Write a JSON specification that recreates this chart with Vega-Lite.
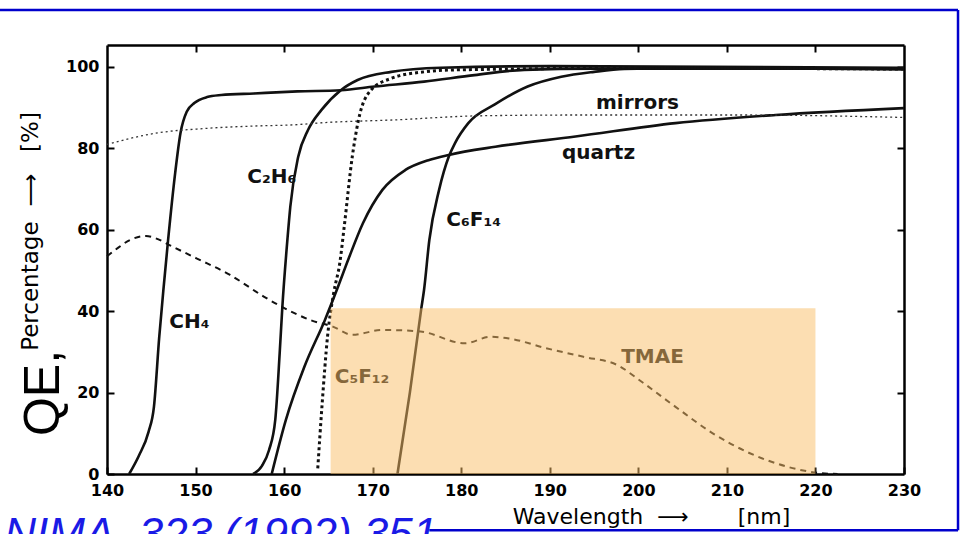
{
  "$schema": "https://vega.github.io/schema/vega-lite/v6.json",
  "width": 797,
  "height": 429,
  "autosize": {"type": "none"},
  "padding": {"left": 107, "top": 45, "right": 56, "bottom": 60},
  "background": "white",
  "config": {"view": {"stroke": null}, "font": "DejaVu Sans"},
  "datasets": {
    "solid": [
      {"s": "CH4", "x": 142.5, "y": 0}, {"s": "CH4", "x": 143.6, "y": 4.5}, {"s": "CH4", "x": 144.7, "y": 10.4}, {"s": "CH4", "x": 145.3, "y": 16.5}, {"s": "CH4", "x": 145.9, "y": 33.7}, {"s": "CH4", "x": 146.4, "y": 46}, {"s": "CH4", "x": 146.9, "y": 57.5}, {"s": "CH4", "x": 147.7, "y": 74}, {"s": "CH4", "x": 148.3, "y": 83.8}, {"s": "CH4", "x": 149.0, "y": 89}, {"s": "CH4", "x": 149.9, "y": 91.2}, {"s": "CH4", "x": 151.3, "y": 92.6}, {"s": "CH4", "x": 152.9, "y": 93.1}, {"s": "CH4", "x": 156.6, "y": 93.5}, {"s": "CH4", "x": 161.5, "y": 94}, {"s": "CH4", "x": 166.4, "y": 94.3}, {"s": "CH4", "x": 170.2, "y": 95.2}, {"s": "CH4", "x": 175.8, "y": 96.4}, {"s": "CH4", "x": 181.5, "y": 98}, {"s": "CH4", "x": 187.1, "y": 99.3}, {"s": "CH4", "x": 195, "y": 99.6}, {"s": "CH4", "x": 230, "y": 99.6},
      {"s": "C2H6", "x": 156.5, "y": 0}, {"s": "C2H6", "x": 157.5, "y": 2}, {"s": "C2H6", "x": 158.3, "y": 5.9}, {"s": "C2H6", "x": 159.0, "y": 13.3}, {"s": "C2H6", "x": 159.5, "y": 29.7}, {"s": "C2H6", "x": 159.8, "y": 41}, {"s": "C2H6", "x": 160.4, "y": 58.3}, {"s": "C2H6", "x": 160.7, "y": 65.7}, {"s": "C2H6", "x": 161.6, "y": 78}, {"s": "C2H6", "x": 162.7, "y": 84.5}, {"s": "C2H6", "x": 164.2, "y": 89.4}, {"s": "C2H6", "x": 166.4, "y": 94.3}, {"s": "C2H6", "x": 168.3, "y": 96.8}, {"s": "C2H6", "x": 172.1, "y": 98.8}, {"s": "C2H6", "x": 177.7, "y": 99.8}, {"s": "C2H6", "x": 190, "y": 100.2}, {"s": "C2H6", "x": 230, "y": 99.8},
      {"s": "quartz", "x": 158.6, "y": 0}, {"s": "quartz", "x": 160.2, "y": 13.3}, {"s": "quartz", "x": 162.3, "y": 26.4}, {"s": "quartz", "x": 164.6, "y": 37.8}, {"s": "quartz", "x": 166.0, "y": 45.5}, {"s": "quartz", "x": 167.3, "y": 53}, {"s": "quartz", "x": 168.9, "y": 61.6}, {"s": "quartz", "x": 171.1, "y": 69.8}, {"s": "quartz", "x": 173.7, "y": 74.7}, {"s": "quartz", "x": 176.3, "y": 77.1}, {"s": "quartz", "x": 178.6, "y": 78.4}, {"s": "quartz", "x": 183.85, "y": 80.4}, {"s": "quartz", "x": 192.9, "y": 82.9}, {"s": "quartz", "x": 204.2, "y": 86.2}, {"s": "quartz", "x": 215.5, "y": 88.2}, {"s": "quartz", "x": 230, "y": 89.9},
      {"s": "C6F14", "x": 172.8, "y": 0}, {"s": "C6F14", "x": 174.2, "y": 20}, {"s": "C6F14", "x": 175.5, "y": 40.8}, {"s": "C6F14", "x": 175.8, "y": 45.2}, {"s": "C6F14", "x": 176.4, "y": 57.5}, {"s": "C6F14", "x": 177.5, "y": 69.8}, {"s": "C6F14", "x": 178.6, "y": 78}, {"s": "C6F14", "x": 179.3, "y": 81.3}, {"s": "C6F14", "x": 180.8, "y": 86.2}, {"s": "C6F14", "x": 183.8, "y": 90.8}, {"s": "C6F14", "x": 187.5, "y": 95.2}, {"s": "C6F14", "x": 191.3, "y": 97.6}, {"s": "C6F14", "x": 195.0, "y": 98.8}, {"s": "C6F14", "x": 198.4, "y": 99.5}, {"s": "C6F14", "x": 210, "y": 99.8}, {"s": "C6F14", "x": 230, "y": 99.4}
    ],
    "c5f12": [
      {"x": 163.8, "y": 1.4}, {"x": 164.3, "y": 17.4}, {"x": 164.9, "y": 33.7}, {"x": 165.6, "y": 44.5}, {"x": 166.3, "y": 52}, {"x": 166.8, "y": 61}, {"x": 167.7, "y": 78}, {"x": 168.4, "y": 87}, {"x": 169.8, "y": 94.3}, {"x": 172.1, "y": 97.2}, {"x": 175.8, "y": 98.8}, {"x": 179.6, "y": 99.3}, {"x": 200, "y": 99.7}, {"x": 230, "y": 99.5}
    ],
    "mirrors": [
      {"x": 140, "y": 81}, {"x": 145.4, "y": 83.7}, {"x": 151.1, "y": 84.9}, {"x": 156.7, "y": 85.5}, {"x": 161.2, "y": 85.8}, {"x": 164.3, "y": 86.3}, {"x": 172.5, "y": 87}, {"x": 182, "y": 88}, {"x": 192.9, "y": 88.2}, {"x": 211.7, "y": 88.2}, {"x": 230, "y": 87.6}
    ],
    "tmae": [
      {"x": 140, "y": 53.5}, {"x": 140.9, "y": 55}, {"x": 142.6, "y": 57.5}, {"x": 144.4, "y": 58.5}, {"x": 145.5, "y": 57.9}, {"x": 147.45, "y": 55.8}, {"x": 150.1, "y": 53}, {"x": 153.9, "y": 48.9}, {"x": 157.7, "y": 43.6}, {"x": 159.8, "y": 41}, {"x": 163.0, "y": 37.8}, {"x": 165.5, "y": 36.2}, {"x": 167.7, "y": 34.2}, {"x": 171.1, "y": 35.4}, {"x": 175.4, "y": 35}, {"x": 180.4, "y": 32.1}, {"x": 183.3, "y": 33.7}, {"x": 185.4, "y": 33.3}, {"x": 189.6, "y": 30.9}, {"x": 193.8, "y": 28.8}, {"x": 197.6, "y": 26.8}, {"x": 200.1, "y": 23.1}, {"x": 204.2, "y": 16.5}, {"x": 208.4, "y": 10}, {"x": 212.6, "y": 5.1}, {"x": 216.8, "y": 1.8}, {"x": 220.2, "y": 0.3}, {"x": 222.5, "y": 0}
    ],
    "labels": [
      {"t": "mirrors", "x": 199.9, "y": 91.2},
      {"t": "quartz", "x": 195.5, "y": 78.9},
      {"t": "C₂H₆", "x": 158.6, "y": 73},
      {"t": "C₆F₁₄", "x": 181.4, "y": 62.4},
      {"t": "CH₄", "x": 149.3, "y": 37.4},
      {"t": "C₅F₁₂", "x": 168.8, "y": 23.9},
      {"t": "TMAE", "x": 201.6, "y": 28.8}
    ],
    "box": [{"x": 165.25, "x2": 220, "y": 0, "y2": 40.7}],
    "qe": [{"t": "QE,", "x": 132.9, "y": 19.9}],
    "cite": [{"t": "NIMA, 323 (1992) 351", "x": 128.4, "y": -18.5}],
    "frame": [
      {"x": 127.85, "x2": 236.1, "y": 114, "y2": 114},
      {"x": 236.1, "x2": 236.1, "y": 114, "y2": -13.8},
      {"x": 176.4, "x2": 236.1, "y": -13.8, "y2": -13.8}
    ]
  },
  "layer": [
    {
      "data": {"name": "solid"},
      "mark": {"type": "line", "color": "#111", "strokeWidth": 2.6, "interpolate": "monotone"},
      "encoding": {
        "x": {"field": "x", "type": "quantitative", "scale": {"domain": [140, 230], "nice": false, "zero": false},
          "axis": {"orient": "bottom", "values": [140, 150, 160, 170, 180, 190, 200, 210, 220, 230], "grid": false, "tickSize": -7, "tickWidth": 2, "tickColor": "#000", "domainColor": "#000", "domainWidth": 2.5, "labelFontWeight": "bold", "labelFontSize": 16, "labelColor": "#000", "labelPadding": 15, "labelFlush": false,
            "title": "Wavelength \u00a0⟶\u00a0\u00a0\u00a0\u00a0\u00a0\u00a0\u00a0[nm]", "titleFontSize": 22, "titleFontWeight": "normal", "titleColor": "#000", "titleX": 544, "titleY": 32, "titleBaseline": "top"}},
        "y": {"field": "y", "type": "quantitative", "scale": {"domain": [0, 105.4], "nice": false},
          "axis": {"orient": "left", "values": [0, 20, 40, 60, 80, 100], "grid": false, "tickSize": -7, "tickWidth": 2, "tickColor": "#000", "domainColor": "#000", "domainWidth": 2.5, "labelFontWeight": "bold", "labelFontSize": 16, "labelColor": "#000", "labelPadding": 15, "labelFlush": false,
            "title": "Percentage \u00a0⟶\u00a0\u00a0 [%]", "titleFontSize": 23, "titleFontWeight": "normal", "titleColor": "#000", "titleX": -65, "titleY": 186, "titleAngle": 270, "titleBaseline": "bottom", "titleAlign": "center"}},
        "detail": {"field": "s"}
      }
    },
    {
      "data": {"name": "mirrors"},
      "mark": {"type": "line", "color": "#333", "strokeWidth": 1.3, "strokeDash": [2, 3], "interpolate": "monotone"},
      "encoding": {
        "x": {"field": "x", "type": "quantitative", "axis": {"orient": "top", "values": [150, 160, 170, 180, 190, 200, 210, 220], "labels": false, "grid": false, "tickSize": -7, "tickWidth": 2, "tickColor": "#000", "domainColor": "#000", "domainWidth": 2.5, "title": null}},
        "y": {"field": "y", "type": "quantitative", "axis": {"orient": "right", "values": [20, 40, 60, 80, 100], "labels": false, "grid": false, "tickSize": -7, "tickWidth": 2, "tickColor": "#000", "domainColor": "#000", "domainWidth": 2.5, "title": null}}
      }
    },
    {
      "data": {"name": "c5f12"},
      "mark": {"type": "line", "color": "#111", "strokeWidth": 3, "strokeDash": [3, 3], "interpolate": "monotone"},
      "encoding": {
        "x": {"field": "x", "type": "quantitative", "axis": null},
        "y": {"field": "y", "type": "quantitative", "axis": null}
      }
    },
    {
      "data": {"name": "tmae"},
      "mark": {"type": "line", "color": "#111", "strokeWidth": 2, "strokeDash": [6, 5], "interpolate": "monotone"},
      "encoding": {
        "x": {"field": "x", "type": "quantitative", "axis": null},
        "y": {"field": "y", "type": "quantitative", "axis": null}
      }
    },
    {
      "data": {"name": "labels"},
      "mark": {"type": "text", "fontSize": 20, "fontWeight": "bold", "color": "#111", "align": "center", "baseline": "middle"},
      "encoding": {
        "x": {"field": "x", "type": "quantitative", "axis": null},
        "y": {"field": "y", "type": "quantitative", "axis": null},
        "text": {"field": "t"}
      }
    },
    {
      "data": {"name": "box"},
      "mark": {"type": "rect", "color": "#F9BD65", "opacity": 0.5},
      "encoding": {
        "x": {"field": "x", "type": "quantitative", "axis": null},
        "x2": {"field": "x2"},
        "y": {"field": "y", "type": "quantitative", "axis": null},
        "y2": {"field": "y2"}
      }
    },
    {
      "data": {"name": "qe"},
      "mark": {"type": "text", "fontSize": 50, "font": "Liberation Sans", "color": "#000", "angle": 270, "align": "center", "baseline": "middle"},
      "encoding": {
        "x": {"field": "x", "type": "quantitative", "axis": null},
        "y": {"field": "y", "type": "quantitative", "axis": null},
        "text": {"field": "t"}
      }
    },
    {
      "data": {"name": "cite"},
      "mark": {"type": "text", "fontSize": 44, "font": "Liberation Sans", "fontStyle": "italic", "color": "#1A1AE6", "align": "left", "baseline": "alphabetic"},
      "encoding": {
        "x": {"field": "x", "type": "quantitative", "axis": null},
        "y": {"field": "y", "type": "quantitative", "axis": null},
        "text": {"field": "t"}
      }
    },
    {
      "data": {"name": "frame"},
      "mark": {"type": "rule", "color": "#0000CC", "strokeWidth": 2.5},
      "encoding": {
        "x": {"field": "x", "type": "quantitative", "axis": null},
        "x2": {"field": "x2"},
        "y": {"field": "y", "type": "quantitative", "axis": null},
        "y2": {"field": "y2"}
      }
    }
  ],
  "resolve": {"axis": {"x": "independent", "y": "independent"}}
}
